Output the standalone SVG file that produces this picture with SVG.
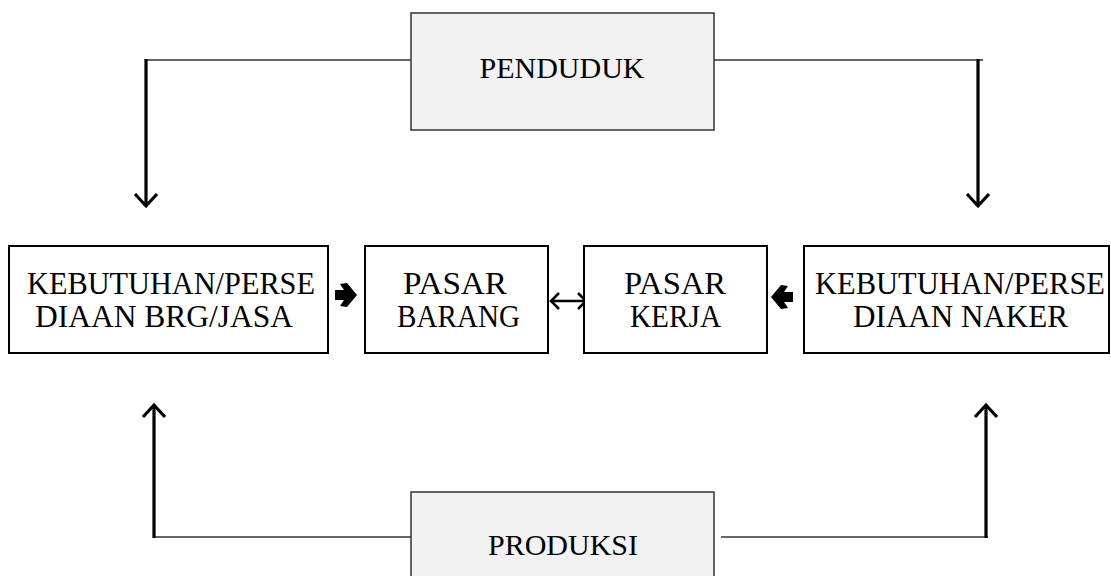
<svg xmlns="http://www.w3.org/2000/svg" width="1111" height="576" viewBox="0 0 1111 576">
<style>
  .box { fill: #ffffff; stroke: #000000; stroke-width: 2; }
  .gbox { fill: #f2f2f2; stroke: #333333; stroke-width: 1.5; }
  .t { font-family: "Liberation Serif", "Times New Roman", serif; fill: #000000; }
  .big { font-size: 31px; }
  .small { font-size: 30px; }
  .thin { fill: none; stroke: #333333; stroke-width: 1.5; }
  .thick { fill: none; stroke: #000000; stroke-width: 3.2; stroke-linecap: butt; }
  .head { fill: none; stroke: #000000; stroke-width: 3.2; stroke-linejoin: miter; }
  .solid { fill: #000000; stroke: none; }
</style>
<rect width="1111" height="576" fill="#ffffff"/>
<g id="connectors">
  <path class="thin" d="M146,60 H415"/>
  <path class="thick" d="M146,59 V205"/>
  <path class="head" d="M135,194 L146,206 L157,194"/>
  <path class="thin" d="M714,60 H983"/>
  <path class="thick" d="M978,59 V205"/>
  <path class="head" d="M967,194 L978,206 L989,194"/>
  <path class="thin" d="M153,537 H418"/>
  <path class="thick" d="M154,538 V406"/>
  <path class="head" d="M143,417 L154,405 L165,417"/>
  <path class="thin" d="M721,537 H988"/>
  <path class="thick" d="M986,538 V406"/>
  <path class="head" d="M975,417 L986,405 L997,417"/>
  <path class="solid" d="M335,290 L344,290 L340,284 L347,283 L357,295 L347,307 L340,306 L344,300 L335,300 Z"/>
  <path class="solid" d="M793,292 L784,292 L788,286 L781,285 L771,297 L781,309 L788,308 L784,302 L793,302 Z"/>
  <path fill="none" stroke="#000" stroke-width="2.5" d="M551,301 H586 M559,293 L551,301 L559,309 M578,293 L586,301 L578,309"/>
</g>
<g id="penduduk">
  <rect class="gbox" x="411" y="13" width="303" height="117"/>
  <text class="t small" x="562" y="78" text-anchor="middle">PENDUDUK</text>
</g>
<g id="produksi">
  <rect class="gbox" x="411" y="492" width="303" height="90"/>
  <text class="t small" x="563" y="555" text-anchor="middle">PRODUKSI</text>
</g>
<g id="kebutuhan-barang">
  <rect class="box" x="9" y="246" width="319" height="107"/>
  <text class="t big" x="27" y="294" textLength="288" lengthAdjust="spacingAndGlyphs">KEBUTUHAN/PERSE</text>
  <text class="t big" x="35" y="327" textLength="258" lengthAdjust="spacingAndGlyphs">DIAAN BRG/JASA</text>
</g>
<g id="pasar-barang">
  <rect class="box" x="365" y="246" width="183" height="107"/>
  <text class="t big" x="403" y="294" textLength="104" lengthAdjust="spacingAndGlyphs">PASAR</text>
  <text class="t big" x="397" y="327" textLength="123" lengthAdjust="spacingAndGlyphs">BARANG</text>
</g>
<g id="pasar-kerja">
  <rect class="box" x="584" y="246" width="183" height="107"/>
  <text class="t big" x="624" y="294" textLength="102" lengthAdjust="spacingAndGlyphs">PASAR</text>
  <text class="t big" x="630" y="327" textLength="91" lengthAdjust="spacingAndGlyphs">KERJA</text>
</g>
<g id="kebutuhan-naker">
  <rect class="box" x="804" y="246" width="305" height="107"/>
  <text class="t big" x="815" y="294" textLength="290" lengthAdjust="spacingAndGlyphs">KEBUTUHAN/PERSE</text>
  <text class="t big" x="853" y="327" textLength="215" lengthAdjust="spacingAndGlyphs">DIAAN NAKER</text>
</g>
</svg>
